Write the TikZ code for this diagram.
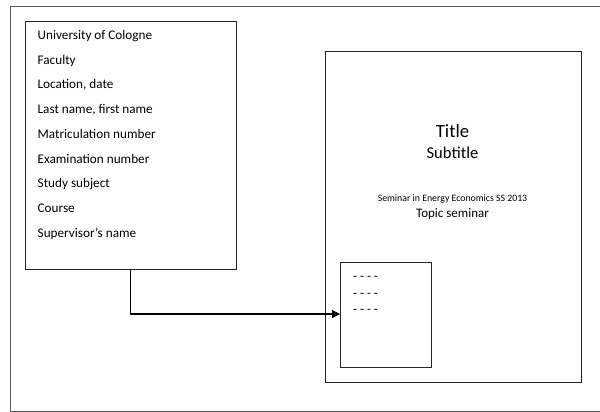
\documentclass[tikz,border=0pt]{standalone}
\usepackage{fontspec}
\setmainfont{Carlito}
\usetikzlibrary{arrows.meta}
\begin{document}
\begin{tikzpicture}[x=1pt,y=-1pt,
  frame/.style={draw=black!65,line width=0.9pt},
  box/.style={draw=black!85,line width=1pt},
  lbl/.style={anchor=base west,inner sep=0pt,font=\fontsize{13.2}{15}\selectfont},
  ctext/.style={anchor=base,inner sep=0pt},
  dashline/.style={anchor=base west,inner sep=0pt,font=\fontsize{13}{15}\selectfont},
  conn/.style={draw=black,line width=1.1pt,-{Triangle[length=8pt,width=8pt]}}]
\useasboundingbox (0,0) rectangle (600,412);
\begin{scope}
\clip (0,0) rectangle (600,412);
\draw[frame] (612,6) -- (10,6) -- (10,411) -- (612,411);
\end{scope}
% left box
\node[box,minimum width=211pt,minimum height=248pt,anchor=north west,inner sep=0pt] (info) at (25,21) {};
\node[lbl] (l1) at (37.5,39.5) {University of Cologne};
\node[lbl] (l2) at (37.5,64.2) {Faculty};
\node[lbl] (l3) at (37.5,88.9) {Location, date};
\node[lbl] (l4) at (37.5,113.6) {Last name, first name};
\node[lbl] (l5) at (37.5,138.3) {Matriculation number};
\node[lbl] (l6) at (37.5,163) {Examination number};
\node[lbl] (l7) at (37.5,187.7) {Study subject};
\node[lbl] (l8) at (37.5,212.4) {Course};
\node[lbl] (l9) at (37.5,237.1) {Supervisor’s name};
% cover page
\node[box,minimum width=256pt,minimum height=331pt,anchor=north west,inner sep=0pt] (cover) at (325,51) {};
\node[ctext,font=\fontsize{18.7}{22}\selectfont] (title) at (452.5,137.5) {Title};
\node[ctext,font=\fontsize{16.6}{20}\selectfont] (subtitle) at (452.5,158.5) {Subtitle};
\node[ctext,font=\fontsize{9.8}{12}\selectfont] (seminar) at (452.5,201) {Seminar in Energy Economics SS 2013};
\node[ctext,font=\fontsize{13}{15}\selectfont] (topic) at (452.5,217.5) {Topic seminar};
% small box
\node[box,minimum width=91pt,minimum height=105pt,anchor=north west,inner sep=0pt] (toc) at (340,262) {};
\node[dashline] (d1) at (353,280.5) {- - - -};
\node[dashline] (d2) at (353,297) {- - - -};
\node[dashline] (d3) at (353,313) {- - - -};
% connector
\coordinate (bend) at (130.5,314);
\draw[conn] (info.south -| bend) -- (bend) -- (bend -| toc.west);
\end{tikzpicture}
\end{document}
